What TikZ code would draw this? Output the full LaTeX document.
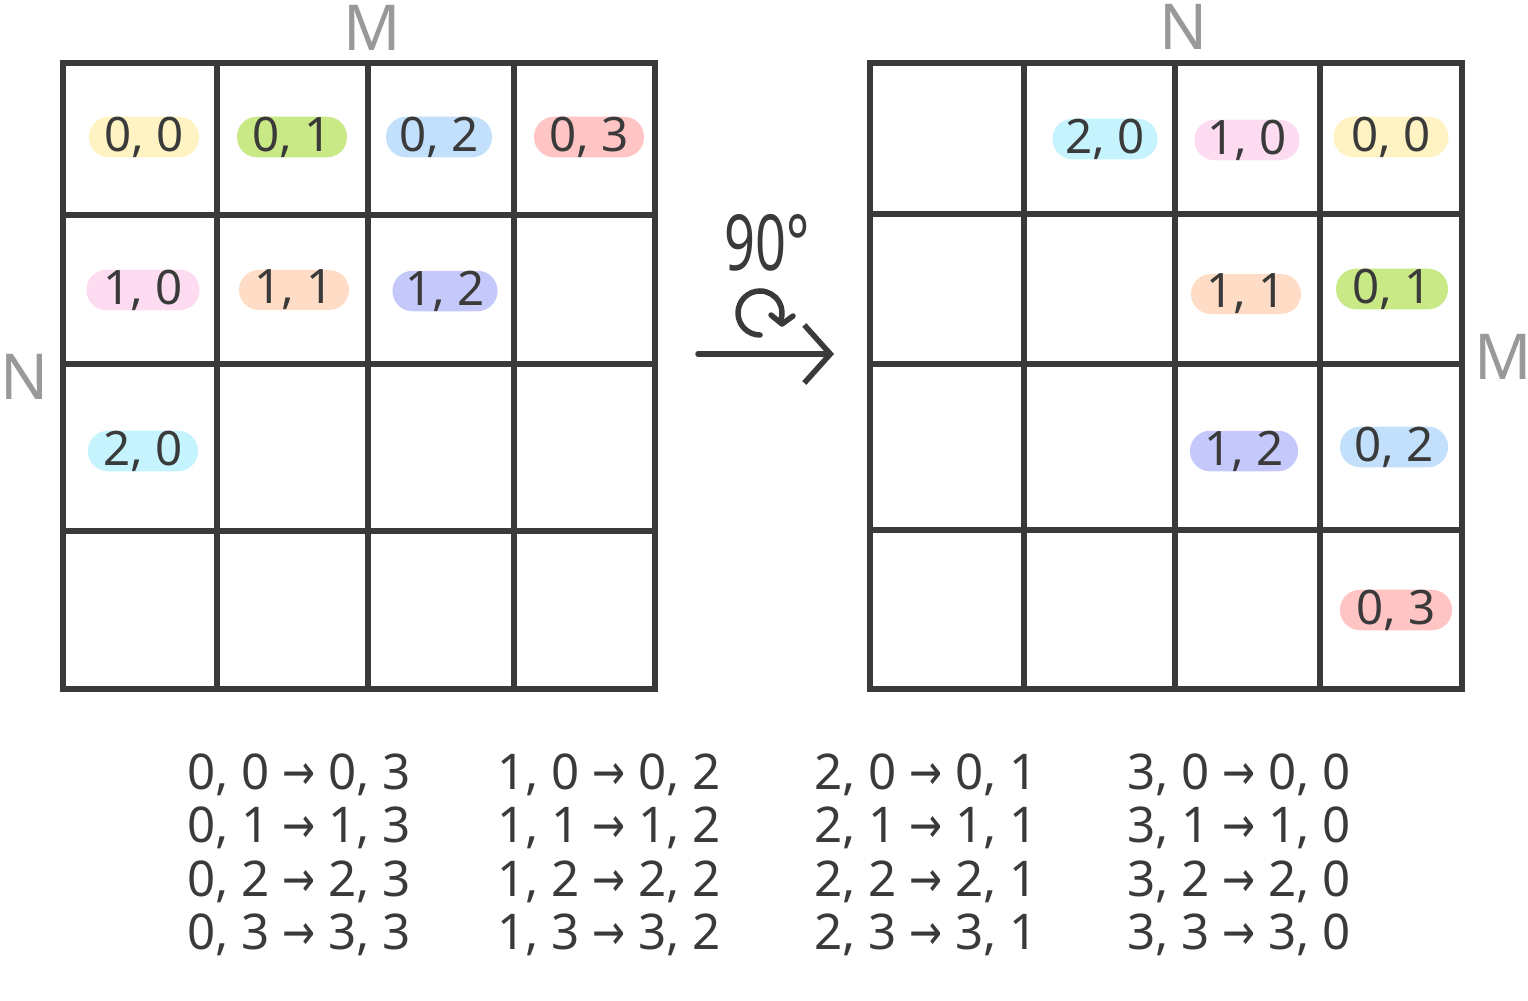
\documentclass[tikz,border=0pt]{standalone}
\usepackage{fontspec}
\setmainfont{Noto Sans}
\newfontfamily\arrowfont{DejaVu Sans}
\usepackage{graphicx}
\usetikzlibrary{arrows.meta,positioning}

\definecolor{ink}{HTML}{3A3A3A}
\definecolor{axisgray}{HTML}{999999}
\definecolor{cYellow}{HTML}{FFF3C4}
\definecolor{cGreen}{HTML}{C9E886}
\definecolor{cBlue}{HTML}{C2E0FC}
\definecolor{cRed}{HTML}{FFC4C4}
\definecolor{cPink}{HTML}{FDDCF1}
\definecolor{cOrange}{HTML}{FFDCC5}
\definecolor{cLilac}{HTML}{C5C8FA}
\definecolor{cCyan}{HTML}{C5F3FE}

\newcommand{\rarr}{{\arrowfont\scalebox{0.8}[1]{→}}}

\begin{document}
\begin{tikzpicture}
  [
    x=0.01cm, y=0.01cm,
    Grid/.style={draw=ink, line width=0.06cm, line cap=rect},
    Pill/.style={rounded corners=0.2cm, minimum height=0.4cm, minimum width=1.1cm, inner sep=0pt, text=ink, font=\fontsize{13.5}{16}\selectfont},
    Axis/.style={text=axisgray, font=\fontsize{18}{20}\selectfont},
    Map/.style={anchor=west, align=left, inner sep=0pt, text=ink, font=\fontsize{14}{15.2}\selectfont},
    Hand/.style={draw=ink, line width=0.055cm, line cap=round, line join=round}
  ]
  \useasboundingbox (0,0) rectangle (1528,-1000);

  % Grids
  \foreach \x in {63,217,368,514,655} \draw[Grid] (\x,-63) -- (\x,-689);
  \foreach \y in {63,215,364,531,689} \draw[Grid] (63,-\y) -- (655,-\y);
  \foreach \x in {870,1024,1175,1320,1462} \draw[Grid] (\x,-63) -- (\x,-689);
  \foreach \y in {63,214,364,530,689} \draw[Grid] (870,-\y) -- (1462,-\y);

  % Axis names
  \node[Axis] (lM) at (372,-28) {M};
  \node[Axis] (lN) at (25,-377) {N};
  \node[Axis] (rN) at (1184,-27) {N};
  \node[Axis] (rM) at (1503,-357) {M};

  % Nodes, left grid
  \node[Pill, fill=cYellow] (l00) at (144,-137) {0, 0};
  \node[Pill, fill=cGreen] (l01) at (292,-137) {0, 1};
  \node[Pill, fill=cBlue, minimum width=1.06cm] (l02) at (439,-137) {0, 2};
  \node[Pill, fill=cRed] (l03) at (589,-137) {0, 3};
  \node[Pill, fill=cPink, minimum width=1.13cm] (l10) at (143,-290) {1, 0};
  \node[Pill, fill=cOrange] (l11) at (294,-290) {1, 1};
  \node[Pill, fill=cLilac, minimum width=1.05cm] (l12) at (445,-291) {1, 2};
  \node[Pill, fill=cCyan] (l20) at (143,-451) {2, 0};

  % Nodes, right grid
  \node[Pill, fill=cCyan, minimum width=1.05cm] (r20) at (1105,-139) {2, 0};
  \node[Pill, fill=cPink, minimum width=1.05cm] (r10) at (1247,-140) {1, 0};
  \node[Pill, fill=cYellow, minimum width=1.15cm] (r00) at (1391,-137) {0, 0};
  \node[Pill, fill=cOrange] (r11) at (1246,-294) {1, 1};
  \node[Pill, fill=cGreen, minimum width=1.12cm] (r01) at (1392,-289) {0, 1};
  \node[Pill, fill=cLilac, minimum width=1.08cm] (r12) at (1244,-451) {1, 2};
  \node[Pill, fill=cBlue, minimum width=1.08cm] (r02) at (1394,-447) {0, 2};
  \node[Pill, fill=cRed, minimum width=1.12cm] (r03) at (1396,-610) {0, 3};

  % Rotation
  \node[text=ink, font=\fontsize{22}{24}\selectfont] (deg) at (767,-243) {\scalebox{0.7}[1]{90°}};
  \coordinate (rotTip) at (782,-324);
  \draw[Hand] (760,-335) arc[start angle=-90, end angle=-382, radius=0.22cm];
  \draw[Hand] (771,-315) -- (rotTip) -- (793,-316);
  \coordinate (arrS) at (698,-354);
  \coordinate (arrE) at (834,-354);
  \path [Hand, -{Straight Barb[length=0.26cm, width=0.58cm]}] (arrS) -- (arrE);

  % Mapping
  \node[Map] (m0) at (187,-855) {0, 0 \rarr{} 0, 3\\0, 1 \rarr{} 1, 3\\0, 2 \rarr{} 2, 3\\0, 3 \rarr{} 3, 3};
  \node[Map] (m1) at (497,-855) {1, 0 \rarr{} 0, 2\\1, 1 \rarr{} 1, 2\\1, 2 \rarr{} 2, 2\\1, 3 \rarr{} 3, 2};
  \node[Map] (m2) at (814,-855) {2, 0 \rarr{} 0, 1\\2, 1 \rarr{} 1, 1\\2, 2 \rarr{} 2, 1\\2, 3 \rarr{} 3, 1};
  \node[Map] (m3) at (1127,-855) {3, 0 \rarr{} 0, 0\\3, 1 \rarr{} 1, 0\\3, 2 \rarr{} 2, 0\\3, 3 \rarr{} 3, 0};

\end{tikzpicture}
\end{document}
